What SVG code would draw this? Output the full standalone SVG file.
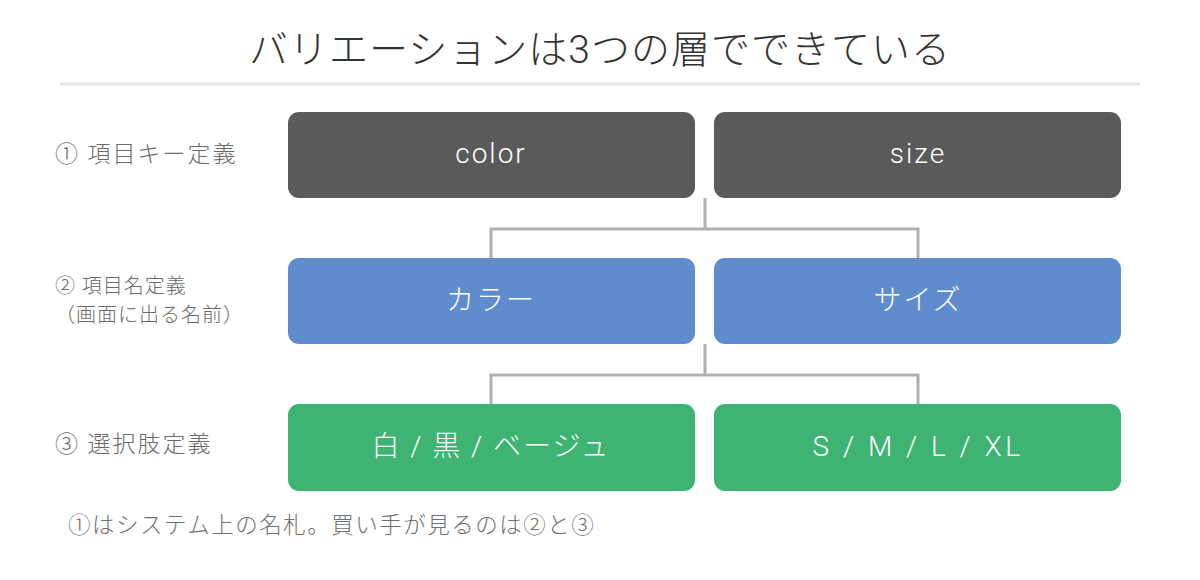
<svg xmlns="http://www.w3.org/2000/svg" width="1200" height="580" viewBox="0 0 1200 580">
<style>
.jp{font-family:"Roboto","Noto Sans CJK JP",sans-serif;font-weight:300;}
.title{font-size:39px;fill:#333333;letter-spacing:1px;}
.lbl{font-size:23px;fill:#6a6a6a;letter-spacing:2px;}
.lbl2{font-size:20px;fill:#6a6a6a;letter-spacing:1px;}
.note{font-size:22.5px;fill:#707070;letter-spacing:1.5px;}
.bt{font-size:28px;fill:#ffffff;text-anchor:middle;letter-spacing:2px;}
.k{fill:#5a5a5a;}
.n{fill:#5f8ccd;}
.v{fill:#3eb372;}
.conn{fill:none;stroke:#b0b0b0;stroke-width:3;}
</style>
<rect width="1200" height="580" fill="#ffffff"/>
<text class="jp title" x="600" y="63" text-anchor="middle">バリエーションは3つの層でできている</text>
<line x1="60" y1="84" x2="1140" y2="84" stroke="#e6e6e6" stroke-width="3"/>
<g id="labels">
<text class="jp lbl" x="55" y="162">① 項目キー定義</text>
<text class="jp lbl2" x="55" y="293">② 項目名定義</text>
<text class="jp lbl2" x="55" y="322">（画面に出る名前）</text>
<text class="jp lbl" x="55" y="452">③ 選択肢定義</text>
</g>
<g id="connectors">
<path class="conn" d="M705 198 V229 M491 258 V229 H918 V258"/>
<path class="conn" d="M705 344 V375 M491 404 V375 H918 V404"/>
</g>
<g id="key-color"><rect class="k" x="288" y="112" width="407" height="86" rx="11"/><text class="jp bt" x="491" y="163">color</text></g>
<g id="key-size"><rect class="k" x="714" y="112" width="407" height="86" rx="11"/><text class="jp bt" x="918" y="163">size</text></g>
<g id="name-color"><rect class="n" x="288" y="258" width="407" height="86" rx="11"/><text class="jp bt" x="491" y="310">カラー</text></g>
<g id="name-size"><rect class="n" x="714" y="258" width="407" height="86" rx="11"/><text class="jp bt" x="918" y="310">サイズ</text></g>
<g id="opt-color"><rect class="v" x="288" y="404" width="407" height="87" rx="11"/><text class="jp bt" x="491" y="456">白 / 黒 / ベージュ</text></g>
<g id="opt-size"><rect class="v" x="714" y="404" width="407" height="87" rx="11"/><text class="jp bt" x="918" y="456" style="letter-spacing:3.5px">S / M / L / XL</text></g>
<text class="jp note" x="68" y="533">①はシステム上の名札。買い手が見るのは②と③</text>
</svg>
